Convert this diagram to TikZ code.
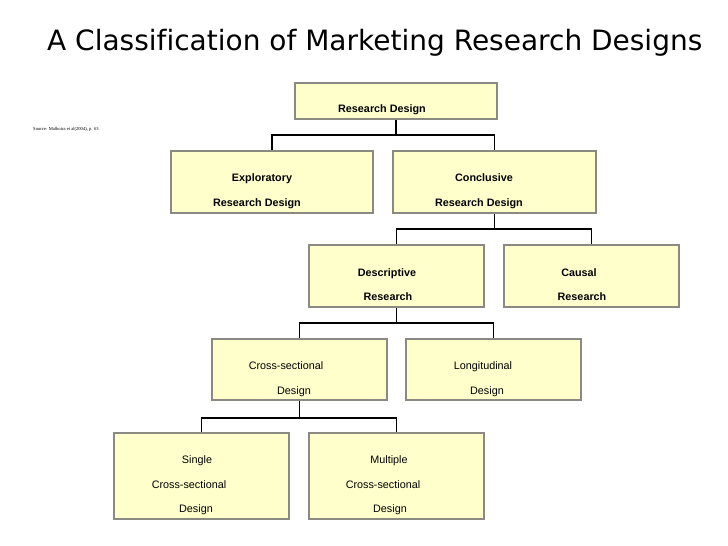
\documentclass[tikz,border=0pt]{standalone}
\usepackage{fontspec}
\setmainfont{Liberation Sans}
\newfontfamily\titlefont[Ligatures=NoCommon]{DejaVu Sans}
\newfontfamily\srcfont{Liberation Serif}
\usepackage{tikz}
\usetikzlibrary{positioning}

\definecolor{boxfill}{RGB}{255,255,204}
\definecolor{boxline}{RGB}{138,138,130}

\begin{document}
\begin{tikzpicture}[x=1pt, y=-1pt,
    box/.style={shape=rectangle, draw=boxline, fill=boxfill, line width=1.6pt, minimum width=175pt, minimum height=62pt, inner sep=0pt},
    txt/.style={anchor=base, inner sep=0pt, font=\fontsize{10.8}{12}\selectfont},
    btxt/.style={anchor=base, inner sep=0pt, font=\fontsize{10.8}{12}\selectfont\bfseries},
    link/.style={draw, line width=1.8pt}]
    \useasboundingbox[fill=white] (0,0) rectangle (728,546);

    \node at (47, 50) (title) [anchor=base west, inner sep=0pt, font=\titlefont\fontsize{28}{32}\selectfont] {A Classification of Marketing Research Designs};
    \node at (33, 129) (src) [anchor=west, inner sep=0pt, font=\srcfont\fontsize{4.6}{5}\selectfont] {Source: Malhotra et al(2004), p. 63};

    \node at (396, 101) (RD) [box, minimum width=202pt, minimum height=36pt] {};

    \node at (272, 182) (Ex) [box, minimum width=202pt] {};
    \node at (494.5, 182) (Co) [box, minimum width=203pt] {};

    \node at (396.5, 276) (De) [box] {};
    \node at (591.5, 276) (Ca) [box] {};

    \node at (299.5, 369.5) (CS) [box, minimum height=61pt] {}; % cross-sectional
    \node at (493.5, 369.5) (Lo) [box, minimum height=61pt] {}; % longitudinal

    \node at (201.5, 476) (SCS) [box, minimum height=86pt] {};
    \node at (396.5, 476) (MCS) [box, minimum height=86pt] {};

    % box texts
    \node at (382, 112) (RD-1) [btxt] {Research Design};
    \node at (262, 181) (Ex-1) [btxt] {Exploratory};
    \node at (257, 206) (Ex-2) [btxt] {Research Design};
    \node at (484, 181) (Co-1) [btxt] {Conclusive};
    \node at (479, 206) (Co-2) [btxt] {Research Design};
    \node at (387, 276) (De-1) [btxt] {Descriptive};
    \node at (388, 300) (De-2) [btxt] {Research};
    \node at (579, 276) (Ca-1) [btxt] {Causal};
    \node at (582, 300) (Ca-2) [btxt] {Research};
    \node at (286, 369) (CS-1) [txt] {Cross-sectional};
    \node at (294, 394) (CS-2) [txt] {Design};
    \node at (483, 369) (Lo-1) [txt] {Longitudinal};
    \node at (487, 394) (Lo-2) [txt] {Design};
    \node at (197, 463) (SCS-1) [txt] {Single};
    \node at (189, 488) (SCS-2) [txt] {Cross-sectional};
    \node at (196, 512) (SCS-3) [txt] {Design};
    \node at (389, 463) (MCS-1) [txt] {Multiple};
    \node at (383, 488) (MCS-2) [txt] {Cross-sectional};
    \node at (390, 512) (MCS-3) [txt] {Design};

    % links
    \path[link] (RD.south) -- ++(0,15) -| (Ex.north);
    \path[link] (RD.south) -- ++(0,15) -| (Co.north);
    \path[link] (Co.south) -- ++(0,15) -| (De.north);
    \path[link] (Co.south) -- ++(0,15) -| (Ca.north);
    \path[link] (De.south) -- ++(0,15) -| (CS.north);
    \path[link] (De.south) -- ++(0,15) -| (Lo.north);
    \path[link] (CS.south) -- ++(0,17) -| (SCS.north);
    \path[link] (CS.south) -- ++(0,17) -| (MCS.north);

\end{tikzpicture}
\end{document}
